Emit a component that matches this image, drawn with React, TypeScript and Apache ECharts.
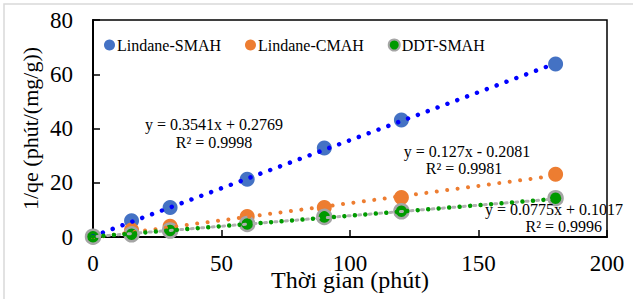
import React, { useEffect, useRef } from "react";
import * as echarts from "echarts";

const seriesNames = ["Lindane-SMAH", "Lindane-CMAH", "DDT-SMAH"];
const times = [0, 15, 30, 60, 90, 120, 180];
const lindaneSMAH = [0.2, 6.0, 10.9, 21.3, 32.8, 43.1, 63.8];
const lindaneCMAH = [0.1, 2.6, 4.0, 7.6, 10.9, 14.6, 23.1];
const ddtSMAH = [0.1, 1.0, 2.4, 4.8, 7.4, 9.5, 14.3];
const slopes = [0.3541, 0.127, 0.0775];
const intercepts = [0.2769, -0.2081, 0.1017];
const equations = ["y = 0.3541x + 0.2769", "y = 0.127x - 0.2081", "y = 0.0775x + 0.1017"];
const r2Labels = ["R² = 0.9998", "R² = 0.9981", "R² = 0.9996"];
const xTicks = [0, 50, 100, 150, 200];
const yTicks = [0, 20, 40, 60, 80];

const FONT = "'Liberation Serif', 'Times New Roman', serif";

export default function App() {
  const ref = useRef<HTMLDivElement>(null);
  useEffect(() => {
    if (!ref.current) return;
    const chart = echarts.init(ref.current, null, { renderer: "svg" });
    const trend = (i: number) => [
      [0, intercepts[i]],
      [180, slopes[i] * 180 + intercepts[i]],
    ];
    const pts = (arr: number[]) => times.map((t, i) => [t, arr[i]]);
    chart.setOption({
      animation: false,
      backgroundColor: "#fff",
      grid: {
        left: 93,
        top: 20,
        width: 514,
        height: 217,
        show: true,
        borderColor: "#000",
        borderWidth: 1.5,
        backgroundColor: "transparent",
        outerBoundsMode: "none",
        containLabel: false,
      },
      legend: {
        data: seriesNames,
        left: 99,
        top: 32,
        itemWidth: 11,
        itemHeight: 11,
        itemGap: 24,
        icon: "circle",
        textStyle: { fontFamily: FONT, fontSize: 16, color: "#000", padding: [0, 0, 0, -3] },
      },
      xAxis: {
        type: "value",
        min: xTicks[0],
        max: xTicks[xTicks.length - 1],
        interval: 50,
        name: "Thời gian (phút)",
        nameLocation: "middle",
        nameGap: 31,
        nameMoveOverlap: false,
        nameTextStyle: { fontFamily: FONT, fontSize: 24, color: "#000" },
        axisLine: { show: true, onZero: false, lineStyle: { color: "#000", width: 2 } },
        axisTick: { show: true, inside: true, length: 7, lineStyle: { color: "#000", width: 1.5 } },
        axisLabel: { fontFamily: FONT, fontSize: 23, color: "#000", margin: 15 },
        splitLine: { show: false },
      },
      yAxis: {
        type: "value",
        min: yTicks[0],
        max: yTicks[yTicks.length - 1],
        interval: 20,
        name: "1/qe (phút/(mg/g))",
        nameLocation: "middle",
        nameGap: 52,
        nameMoveOverlap: false,
        nameTextStyle: { fontFamily: FONT, fontSize: 22, color: "#000" },
        axisLine: { show: true, onZero: false, lineStyle: { color: "#000", width: 2 } },
        axisTick: { show: true, inside: true, length: 7, lineStyle: { color: "#000", width: 1.5 } },
        axisLabel: { fontFamily: FONT, fontSize: 23, color: "#000", margin: 20 },
        splitLine: { show: false },
      },
      series: [
        {
          name: seriesNames[0],
          type: "scatter",
          data: pts(lindaneSMAH),
          symbolSize: 15,
          itemStyle: { color: "#4472C4", opacity: 1 },
          z: 2,
        },
        {
          name: seriesNames[1],
          type: "scatter",
          data: pts(lindaneCMAH),
          symbolSize: 15,
          itemStyle: { color: "#ED7D31", opacity: 1 },
          z: 3,
        },
        {
          name: seriesNames[2],
          type: "scatter",
          data: pts(ddtSMAH),
          symbolSize: 14,
          itemStyle: { color: "#009A00", borderColor: "#A5A5A5", borderWidth: 2.5, opacity: 1 },
          z: 4,
        },
        {
          type: "line",
          data: trend(0),
          symbol: "none",
          silent: true,
          lineStyle: { color: "#0000FF", width: 4.5, type: [0.01, 10.5], cap: "round" },
          z: 6,
        },
        {
          type: "line",
          data: trend(1),
          symbol: "none",
          silent: true,
          lineStyle: { color: "#ED7D31", width: 4, type: [0.01, 10.5], cap: "round" },
          z: 6,
        },
        {
          type: "line",
          data: trend(2),
          symbol: "none",
          silent: true,
          lineStyle: { color: "#B0B0B0", width: 3, type: [2, 8.5], dashOffset: -4.5, cap: "round" },
          z: 5,
        },
        {
          type: "line",
          data: trend(2),
          symbol: "none",
          silent: true,
          lineStyle: { color: "#009A00", width: 4.5, type: [0.01, 10.5], cap: "round" },
          z: 6,
        },
      ],
      graphic: [
        {
          type: "rect",
          shape: { x: 4, y: 4, width: 700, height: 400 },
          style: { fill: "none", stroke: "#D9D9D9", lineWidth: 1.5 },
          silent: true,
          z: 0,
        },
        {
          type: "text",
          x: 214,
          y: 124,
          style: { text: equations[0], font: `16px ${FONT}`, fill: "#000", align: "center", verticalAlign: "middle" },
          z: 100,
        },
        {
          type: "text",
          x: 214,
          y: 142,
          style: { text: r2Labels[0], font: `16px ${FONT}`, fill: "#000", align: "center", verticalAlign: "middle" },
          z: 100,
        },
        {
          type: "text",
          x: 467,
          y: 151,
          style: { text: equations[1], font: `16px ${FONT}`, fill: "#000", align: "center", verticalAlign: "middle" },
          z: 100,
        },
        {
          type: "text",
          x: 464,
          y: 168,
          style: { text: r2Labels[1], font: `16px ${FONT}`, fill: "#000", align: "center", verticalAlign: "middle" },
          z: 100,
        },
        {
          type: "text",
          x: 623,
          y: 209,
          style: { text: equations[2], font: `16px ${FONT}`, fill: "#000", align: "right", verticalAlign: "middle" },
          z: 100,
        },
        {
          type: "text",
          x: 602,
          y: 226,
          style: { text: r2Labels[2], font: `16px ${FONT}`, fill: "#000", align: "right", verticalAlign: "middle" },
          z: 100,
        },
      ],
    });
    return () => chart.dispose();
  }, []);
  return (
    <div
      ref={ref}
      style={{ position: "fixed", left: 0, top: 0, width: 633, height: 299, background: "#fff" }}
    />
  );
}
